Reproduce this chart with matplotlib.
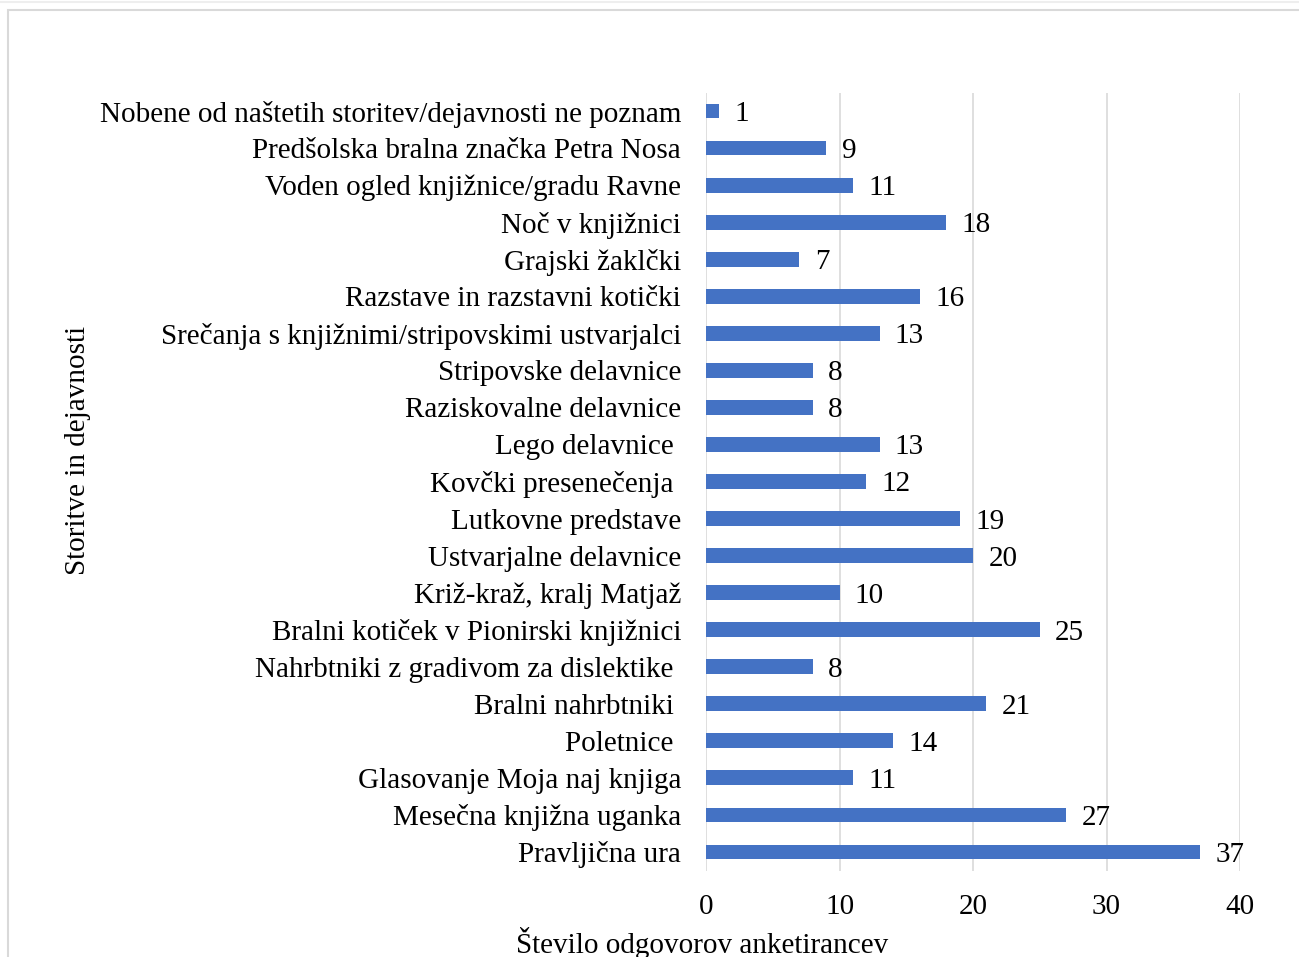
import matplotlib.pyplot as plt
from matplotlib.patches import Rectangle

categories = [
    "Nobene od naštetih storitev/dejavnosti ne poznam",
    "Predšolska bralna značka Petra Nosa",
    "Voden ogled knjižnice/gradu Ravne",
    "Noč v knjižnici",
    "Grajski žaklčki",
    "Razstave in razstavni kotički",
    "Srečanja s knjižnimi/stripovskimi ustvarjalci",
    "Stripovske delavnice",
    "Raziskovalne delavnice",
    "Lego delavnice ",
    "Kovčki presenečenja ",
    "Lutkovne predstave",
    "Ustvarjalne delavnice",
    "Križ-kraž, kralj Matjaž",
    "Bralni kotiček v Pionirski knjižnici",
    "Nahrbtniki z gradivom za dislektike ",
    "Bralni nahrbtniki ",
    "Poletnice ",
    "Glasovanje Moja naj knjiga",
    "Mesečna knjižna uganka",
    "Pravljična ura",
]
values = [1, 9, 11, 18, 7, 16, 13, 8, 8, 13, 12, 19, 20, 10, 25, 8, 21, 14, 11, 27, 37]
x_ticks = [0, 10, 20, 30, 40]

plt.rcParams["font.family"] = ["Liberation Serif", "DejaVu Serif"]
FS = 21

W, H = 1299, 957
fig = plt.figure(figsize=(W / 100, H / 100), dpi=100)
ax = fig.add_axes([706 / W, 1 - 870.5 / H, (1240 - 706) / W, (870.5 - 92.5) / H])

ypos = list(range(len(categories)))
ax.barh(ypos, values, height=0.4, color="#4472C4", zorder=3)
for y, v in zip(ypos, values):
    ax.text(v + 1.15, y + 0.08, str(v), va="center", ha="left", fontsize=FS)

ax.set_xlim(0, 40)
ax.set_ylim(len(categories) - 0.5, -0.5)
ax.set_xticks(x_ticks)
ax.set_yticks(ypos)
ax.set_yticklabels(categories, fontsize=FS)
ax.tick_params(axis="x", length=0, pad=17, labelsize=FS)
ax.tick_params(axis="y", length=0, pad=18)
ax.grid(axis="x", color="#d9d9d9", linewidth=1.2, zorder=0)
for s in ax.spines.values():
    s.set_visible(False)

fig.text(702 / W, 1 - 943 / H, "Število odgovorov anketirancev", ha="center", va="center", fontsize=FS)
fig.text(78 / W, 1 - 450 / H, "Storitve in dejavnosti", ha="center", va="center",
         rotation=90, fontsize=FS)

# outer frame of the chart area
fig.patches.append(Rectangle((8 / W, -0.1), 1.2, 1 - 10 / H + 0.1, transform=fig.transFigure,
                             fill=False, edgecolor="#d9d9d9", linewidth=1.5))
fig.add_artist(plt.Line2D([0, 1], [1 - 2 / H, 1 - 2 / H], transform=fig.transFigure,
                          color="#eeeeee", linewidth=1.5))

fig.savefig("out.png", dpi=100)
